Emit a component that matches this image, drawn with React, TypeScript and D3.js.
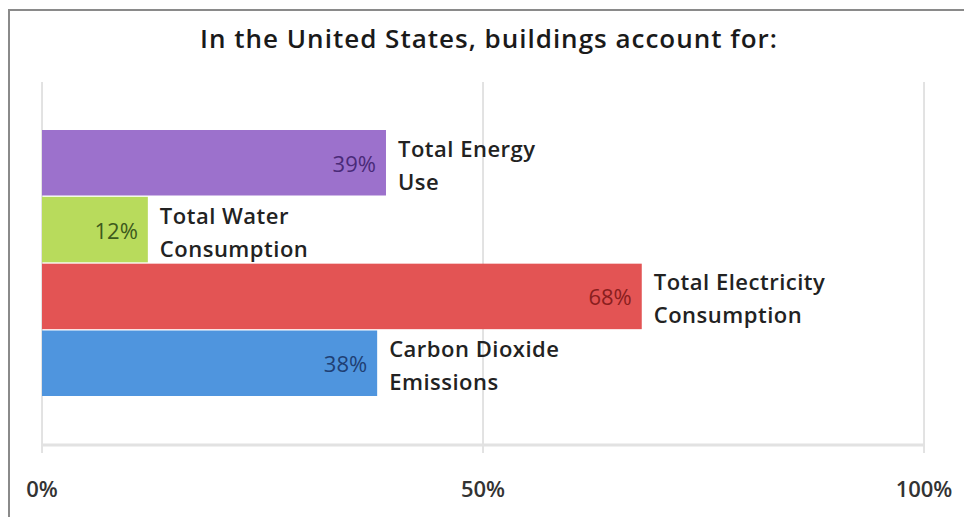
import React from "react";
import * as d3 from "d3";

const title = "In the United States, buildings account for:";
const categories = ["Total Energy Use", "Total Water Consumption", "Total Electricity Consumption", "Carbon Dioxide Emissions"];
const labelLines = [["Total Energy", "Use"], ["Total Water", "Consumption"], ["Total Electricity", "Consumption"], ["Carbon Dioxide", "Emissions"]];
const values = [39, 12, 68, 38];
const barColors = ["#9c71cc", "#b8db5c", "#e35454", "#4f95de"];
const valueColors = ["#4a2a78", "#3d5a1c", "#8a1e1e", "#1f3f74"];
const ticks = [0, 50, 100];

const W = 964;
const H = 517;
const FONT = "'Open Sans', 'DejaVu Sans', sans-serif";

export default function App() {
  const x = d3.scaleLinear().domain([0, 100]).range([42, 924]);
  const y = d3.scaleBand<string>().domain(categories).range([130, 396]).paddingInner(0.02);
  const bw = y.bandwidth();

  return (
    <svg width={W} height={H} style={{ position: "absolute", left: 0, top: 0, background: "#fff" }} fontFamily={FONT}>
      <rect x={0} y={0} width={W} height={H} fill="#fff" />
      <rect x={9} y={10} width={W + 20} height={H + 20} fill="none" stroke="#8a8a8a" strokeWidth={2} />
      <text x={489} y={48} textAnchor="middle" fontSize={26} fontWeight={600} letterSpacing={1} fill="#1a1a1a">{title}</text>
      {ticks.map((t) => (
        <line key={"g" + t} x1={x(t)} x2={x(t)} y1={82} y2={453} stroke="#c6c6c6" strokeWidth={1} />
      ))}
      <line x1={x(0)} x2={x(100)} y1={445} y2={445} stroke="#e2e2e2" strokeWidth={3} />
      {ticks.map((t) => (
        <text key={"t" + t} x={x(t)} y={497} textAnchor="middle" fontSize={22} fontWeight={600} fill="#333">{t + "%"}</text>
      ))}
      {categories.map((c, i) => {
        const y0 = y(c) as number;
        const cy = y0 + bw / 2;
        const xe = x(values[i]);
        return (
          <g key={c}>
            <rect x={x(0)} y={y0} width={xe - x(0)} height={bw} fill={barColors[i]} />
            <text x={xe - 10} y={cy + 9} textAnchor="end" fontSize={22} fill={valueColors[i]}>{values[i] + "%"}</text>
            {labelLines[i].map((ln, j) => (
              <text key={j} x={xe + 12} y={cy - 6 + j * 33} fontSize={22} fontWeight={600} letterSpacing={0.5} fill="#222">{ln}</text>
            ))}
          </g>
        );
      })}
    </svg>
  );
}
